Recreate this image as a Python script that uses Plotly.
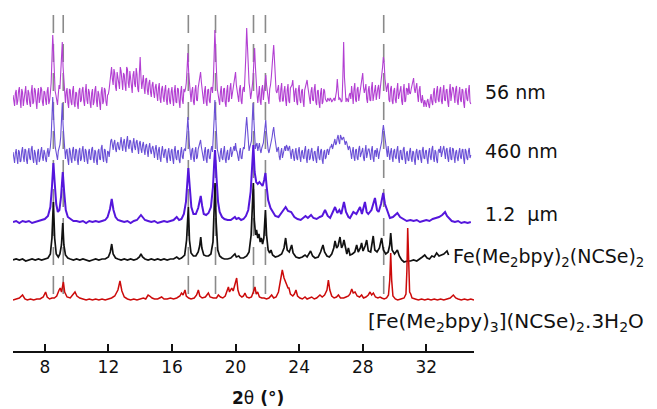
import plotly.graph_objects as go

# ---------------- data (intensities in arbitrary units) ----------------
# noisy patterns: values at 6.0, 6.1, ... 34.8 deg (MAIN) and at 6.05, 6.15, ... 34.75 deg (MID)
NOISY_START = 6.0
NOISY_STEP = 0.1

INT_56NM_MAIN = [
    2, -9, 7, -4, 10, -11, 5, -3, 11, -8,
    4, -10, 12, -5, 7, -12, 9, -2, 8, -9,
    5, -8, 10, -4, 14, 62, 18, 2, -8, 12,
    20, 55, 16, -6, 9, -11, 7, -8, 11, -10,
    4, -12, 9, -3, 10, -9, 13, -7, 5, -11,
    8, -5, 11, -10, 3, -13, 10, -4, 7, -9,
    3, 14, 30, 12, 24, 6, 21, 8, 26, 7,
    22, 6, 28, 9, 20, 4, 26, 10, 23, 5,
    40, 8, 22, 3, 19, 2, 17, 0, 15, -1,
    13, -4, 14, -6, 11, -5, 12, -8, 9, -7,
    10, -9, 12, -6, 8, -11, 11, -7, 5, 14,
    44, 12, -5, 10, -8, 12, -4, 14, 25, 6,
    -7, 11, -9, 8, -6, 10, 16, 67, 22, 3,
    -8, 11, -5, 9, -10, 12, -4, 14, 3, 15,
    25, 6, -5, 12, -7, 10, 18, 69, 26, 8,
    4, 18, 49, 12, -6, 11, -8, 12, 5, 22,
    6, -7, 12, 28, 52, 18, 4, 12, -5, 14,
    -4, 11, -9, 13, -6, 10, 17, -5, 9, -8,
    12, -6, 8, -10, 11, 17, 3, -7, 10, -4,
    13, -8, 7, -11, 9, -5, 6, -3, -1, -4,
    -2, -4, -1, 2, 18, -3, -2, -4, 55, -3,
    -1, -5, 4, 11, -7, 14, -5, 10, 2, 12,
    24, 4, 13, -6, 11, -4, 15, 3, 12, 6,
    12, 8, 20, 40, 18, 5, 14, -5, 11, -7,
    9, -6, 14, 2, 11, -8, 13, -4, 8, 14,
    3, 12, 19, 4, 14, -5, 11, -6, -8, -3,
    -10, -2, -11, 3, -8, 9, -6, 11, -5, 10,
    -7, 12, -4, 8, -10, 13, 2, 9, -6, 11,
    -8, 10, -5, 7, -11, 9, -4, 12, -7,
]
INT_56NM_MID = [
    -5, 4, -8, 6, -3, 8, -9, 6, -4, 7,
    -6, 5, -7, 9, -4, 3, -6, 10, -5, 6,
    -3, 6, -7, 4, 38, 45, 6, -5, 3, 8,
    40, 30, 4, 5, -6, 8, -5, 6, -7, 5,
    -7, 6, -5, 7, -4, 5, -3, 8, -6, 4,
    -8, 7, -4, 6, -6, 5, -7, 9, -5, 2,
    8, 24, 18, 28, 10, 25, 14, 30, 12, 24,
    12, 30, 14, 26, 11, 22, 13, 29, 8, 24,
    20, 15, 9, 18, 7, 14, 5, 12, 4, 10,
    3, 9, -2, 8, 0, 7, -3, 6, -4, 5,
    -2, 6, -5, 9, -4, 5, -3, 8, 8, 28,
    25, 4, 6, -5, 7, -3, 9, 18, 15, -4,
    6, -5, 7, -4, 9, 4, 40, 45, 8, -3,
    5, -4, 8, -6, 6, -5, 9, -2, 10, 20,
    12, -3, 8, -4, 7, 5, 42, 48, 14, -2,
    10, 35, 30, 3, 7, -4, 8, -3, 14, 12,
    -3, 8, 20, 42, 35, 6, 9, -2, 8, -4,
    6, -3, 7, -4, 9, 12, 5, 6, -5, 7,
    -3, 6, -4, 7, 14, 10, -4, 6, -3, 8,
    -5, 6, -6, 4, -7, 8, -2, -5, -2, -1,
    -5, -2, -4, 6, 4, -1, -5, 20, 20, -5,
    -3, 2, -2, 3, 8, -3, 8, -4, 7, 16,
    10, 8, -2, 7, -3, 9, -4, 10, -3, 9,
    -2, 14, 30, 34, 8, 11, -3, 8, -4, 6,
    -3, 7, -2, 8, -4, 6, -5, 9, 2, 4,
    8, 15, 8, 10, 2, 7, -3, 2, -10, -9,
    -4, -8, -2, -5, 4, -4, 6, -3, 7, -4,
    6, -3, 7, -5, 5, -4, 10, -3, 8, -4,
    4, -3, 8, -6, 5, -2, 6, -5,
]

INT_460NM_MAIN = [
    3, -8, 6, -9, 3, -6, 8, -7, 5, -9,
    7, -5, 9, -8, 2, -10, 6, -4, 8, -6,
    2, -7, 7, 3, 18, 58, 20, 4, -5, 8,
    18, 52, 14, -4, 6, -10, 4, -8, 8, -6,
    5, -10, 7, -4, 9, -7, 4, -9, 6, -5,
    8, -8, 3, -10, 6, -5, 10, -7, 5, -8,
    3, 8, 16, 5, 15, 3, 13, 5, 18, 4,
    16, 3, 19, 6, 14, 2, 17, 5, 15, 1,
    14, 2, 13, 0, 11, -2, 12, 1, 9, -3,
    10, -5, 8, -7, 9, -3, 6, -8, 7, -6,
    6, -9, 9, -5, 5, -8, 8, -4, 6, 12,
    38, 10, -5, 7, -7, 8, -2, 9, 15, 3,
    -6, 8, -8, 6, -4, 9, 15, 55, 18, 2,
    -7, 7, -5, 9, -8, 5, -4, 8, 1, 9,
    12, 3, -6, 7, -4, 8, 14, 38, 15, 8,
    14, 52, 22, 10, 4, 12, 2, 9, 20, 35,
    12, 2, 8, 18, 28, 12, 3, 8, -5, 7,
    2, 9, 10, 4, 9, -4, 6, -6, 7, -5,
    8, -7, 5, -4, 9, -8, 6, -3, 7, -6,
    4, -8, 9, -5, 6, -9, 5, -2, 6, 3,
    8, 6, 13, 10, 17, 14, 20, 15, 18, 10,
    12, 5, 7, -4, 8, -6, 6, -5, 9, 2,
    7, -6, 10, 1, 6, -5, 9, -7, 5, 7,
    -4, 6, 14, 30, 16, 4, 9, -5, 7, -7,
    6, -4, 9, -8, 5, -5, 8, -9, 4, -6,
    7, -7, 3, -10, 6, -5, 5, -8, 8, -4,
    5, -9, 7, -5, 9, -7, 3, -8, 6, 9,
    4, 9, -4, 7, -7, 8, -5, 6, -8, 5,
    -6, 7, -4, 6, -9, 4, -5, 7, 0,
]
INT_460NM_MID = [
    -4, 2, -3, 5, -7, 4, -2, 6, -5, 3,
    -3, 6, -4, 5, -6, 3, -7, 4, -2, 5,
    -4, 3, -2, 8, 40, 40, 9, -3, 4, 10,
    35, 30, 3, 4, -5, 7, -4, 5, -3, 6,
    -5, 4, -6, 5, -2, 6, -5, 3, -4, 6,
    -3, 5, -6, 4, -4, 7, -3, 6, -5, 4,
    -2, 14, 9, 12, 6, 11, 7, 12, 10, 13,
    8, 14, 9, 15, 6, 12, 8, 13, 7, 12,
    6, 10, 5, 9, 4, 8, 4, 7, 3, 6,
    2, 5, -3, 4, 1, 5, -3, 3, -2, 4,
    -4, 5, -3, 4, -5, 3, -2, 5, 4, 25,
    20, 2, 5, -3, 4, -4, 6, 12, 8, -2,
    4, -4, 5, -3, 5, 3, 35, 35, 6, -4,
    3, -3, 4, -4, 2, -5, 5, -2, 6, 4,
    5, -2, 3, -3, 4, 6, 28, 25, 4, 10,
    35, 36, 6, 12, 8, 5, 7, 12, 28, 22,
    5, 6, 12, 24, 20, 5, 6, -2, 3, -3,
    6, 4, 8, 7, 2, 4, -2, 3, -3, 4,
    -2, 3, -2, 5, -3, 4, -5, 4, -3, 3,
    -4, 5, -3, 4, -5, 3, -4, 5, 0, 8,
    11, 9, 16, 12, 20, 11, 18, 17, 14, 14,
    8, 9, 2, 4, -2, 5, -3, 6, -2, 6,
    -3, 4, -3, 6, -4, 5, -3, 4, -2, 3,
    2, 8, 24, 24, 8, -2, 4, 3, -2, 4,
    -2, 5, -3, 4, -4, 6, -3, 2, -5, 4,
    -3, 4, -5, 3, -2, 4, -4, 5, -3, 4,
    -4, 3, -2, 6, -3, 5, -5, 4, 2, -2,
    6, -3, 5, -3, 4, -4, 7, -2, 3, -3,
    3, -2, 5, -4, 6, -3, 4, -3,
]

# smoother patterns: (2theta, intensity) vertices
PAT_1P2UM = [
    (6.0, 0), (6.2, 1), (6.4, -1), (6.6, 1), (6.8, 0), (7.0, 1), (7.2, -1), (7.4, 0), (7.6, 1), (7.8, 2),
    (8.0, 3), (8.2, 6), (8.35, 15), (8.45, 35), (8.54, 59), (8.62, 40), (8.72, 18), (8.82, 10), (8.92, 12),
    (9.02, 25), (9.13, 50), (9.22, 30), (9.32, 12), (9.45, 5), (9.6, 3), (9.8, 1), (10.0, 1), (10.2, 0),
    (10.4, 1), (10.6, -1), (10.8, 1), (11.0, 0), (11.2, 1), (11.4, 0), (11.6, 1), (11.8, 2), (11.95, 5),
    (12.1, 13), (12.21, 23), (12.32, 12), (12.45, 5), (12.6, 2), (12.8, 1), (13.0, 0), (13.2, 1), (13.4, -1),
    (13.6, 1), (13.8, 2), (13.95, 5), (14.05, 7), (14.15, 5), (14.3, 2), (14.5, 1), (14.7, 0), (14.9, 1),
    (15.1, -1), (15.3, 0), (15.5, 1), (15.7, 0), (15.9, 1), (16.1, 2), (16.3, 5), (16.45, 2), (16.6, 3),
    (16.75, 8), (16.88, 20), (16.97, 40), (17.03, 54), (17.12, 35), (17.22, 15), (17.35, 8), (17.5, 8),
    (17.65, 14), (17.75, 22), (17.81, 26), (17.9, 16), (18.0, 8), (18.15, 7), (18.3, 9), (18.45, 15),
    (18.58, 35), (18.66, 60), (18.71, 72), (18.8, 45), (18.9, 20), (19.0, 10), (19.15, 5), (19.3, 3),
    (19.5, 2), (19.7, 2), (19.85, 4), (19.96, 5), (20.05, 3), (20.2, 4), (20.35, 2), (20.5, 3), (20.65, 6),
    (20.8, 12), (20.95, 30), (21.05, 55), (21.12, 77), (21.2, 50), (21.3, 40), (21.4, 38), (21.5, 40),
    (21.6, 38), (21.7, 36), (21.8, 42), (21.88, 49), (21.96, 35), (22.05, 22), (22.2, 14), (22.35, 10),
    (22.5, 6), (22.7, 5), (22.9, 9), (23.05, 13), (23.15, 15), (23.3, 11), (23.5, 10), (23.7, 5), (23.9, 3),
    (24.1, 2), (24.25, 4), (24.4, 6), (24.55, 4), (24.75, 7), (24.9, 4), (25.1, 3), (25.3, 5), (25.45, 6),
    (25.63, 12), (25.8, 6), (25.95, 4), (26.1, 9), (26.26, 15), (26.4, 9), (26.53, 12), (26.65, 8),
    (26.82, 20), (26.95, 10), (27.1, 5), (27.2, 4), (27.41, 10), (27.6, 8), (27.83, 15), (27.95, 8),
    (28.14, 20), (28.25, 10), (28.35, 8), (28.55, 12), (28.77, 24), (28.9, 12), (29.0, 10), (29.15, 18),
    (29.29, 29), (29.4, 18), (29.55, 10), (29.71, 4), (29.9, 5), (30.05, 7), (30.18, 9), (30.35, 5),
    (30.55, 3), (30.77, 1), (31.0, 2), (31.2, 1), (31.4, 2), (31.6, 0), (31.8, 1), (32.0, 2), (32.2, 1),
    (32.4, 3), (32.6, 4), (32.8, 5), (33.0, 7), (33.18, 10), (33.3, 6), (33.45, 3), (33.6, 1), (33.8, 0),
    (34.0, 1), (34.2, -1), (34.4, 0), (34.6, -1), (34.8, 0),
]

PAT_BULK = [
    (6.0, 0), (6.2, 1), (6.4, 0), (6.6, 1), (6.8, -1), (7.0, 0), (7.2, 1), (7.4, 0), (7.6, 1), (7.8, 0),
    (8.0, 1), (8.2, 2), (8.35, 6), (8.45, 22), (8.54, 58), (8.62, 22), (8.72, 6), (8.85, 3), (8.95, 6),
    (9.05, 15), (9.13, 37), (9.2, 15), (9.3, 5), (9.45, 2), (9.6, 1), (9.8, 0), (10.0, 1), (10.2, 0),
    (10.4, 1), (10.6, 0), (10.8, -1), (11.0, 0), (11.2, 1), (11.4, 0), (11.6, 1), (11.8, 1), (12.0, 3),
    (12.12, 8), (12.21, 16), (12.3, 6), (12.45, 2), (12.6, 1), (12.8, 0), (13.0, 1), (13.2, 0), (13.4, 1),
    (13.6, 0), (13.8, 1), (13.95, 3), (14.05, 6), (14.15, 3), (14.3, 1), (14.5, 0), (14.7, 1), (14.9, 0),
    (15.1, 1), (15.3, 0), (15.5, 1), (15.7, 0), (15.9, 1), (16.1, 1), (16.3, 3), (16.45, 1), (16.6, 2),
    (16.8, 5), (16.92, 20), (17.03, 53), (17.1, 20), (17.2, 7), (17.35, 4), (17.5, 4), (17.65, 8),
    (17.74, 14), (17.81, 23), (17.88, 12), (18.0, 5), (18.15, 4), (18.3, 4), (18.45, 6), (18.58, 18),
    (18.66, 45), (18.71, 77), (18.78, 38), (18.88, 10), (19.0, 4), (19.15, 2), (19.3, 1), (19.5, 1),
    (19.7, 2), (19.85, 4), (19.96, 6), (20.05, 3), (20.2, 4), (20.3, 2), (20.5, 2), (20.7, 4), (20.85, 8),
    (20.98, 25), (21.06, 50), (21.12, 77), (21.18, 40), (21.26, 25), (21.32, 30), (21.4, 22), (21.47, 26),
    (21.55, 18), (21.62, 22), (21.7, 16), (21.78, 22), (21.88, 50), (21.95, 25), (22.05, 10), (22.15, 7),
    (22.23, 10), (22.33, 5), (22.5, 3), (22.7, 4), (22.9, 6), (23.05, 12), (23.15, 22), (23.25, 10),
    (23.38, 8), (23.53, 15), (23.62, 7), (23.8, 3), (24.0, 2), (24.2, 3), (24.37, 5), (24.5, 3), (24.72, 9),
    (24.85, 4), (25.0, 2), (25.2, 3), (25.35, 8), (25.5, 15), (25.6, 8), (25.75, 4), (25.9, 3), (26.05, 6),
    (26.18, 12), (26.26, 19), (26.36, 12), (26.45, 14), (26.57, 23), (26.67, 12), (26.75, 15), (26.82, 20),
    (26.92, 10), (27.0, 6), (27.1, 12), (27.2, 5), (27.35, 6), (27.5, 8), (27.62, 15), (27.72, 8),
    (27.85, 12), (27.93, 17), (28.02, 9), (28.15, 14), (28.25, 20), (28.35, 9), (28.5, 8), (28.66, 24),
    (28.76, 10), (28.9, 8), (29.05, 12), (29.19, 22), (29.3, 10), (29.45, 6), (29.6, 8), (29.7, 15),
    (29.76, 27), (29.85, 10), (30.0, 6), (30.18, 10), (30.3, 4), (30.45, 0), (30.6, -2), (30.8, -1),
    (31.0, -1), (31.2, 0), (31.4, -1), (31.6, 1), (31.75, 3), (31.9, 5), (32.05, 2), (32.2, 1), (32.35, 4),
    (32.5, 3), (32.65, 7), (32.8, 4), (32.95, 5), (33.1, 6), (33.3, 9), (33.4, 5),
]

PAT_HYDRATE = [
    (6.0, 0), (6.2, 1), (6.4, 2), (6.6, 5), (6.75, 1), (6.9, 0), (7.1, 1), (7.3, 0), (7.5, 1), (7.7, 1),
    (7.9, 3), (8.05, 8), (8.15, 3), (8.3, 1), (8.45, 2), (8.6, 2), (8.75, 4), (8.9, 10), (8.97, 12),
    (9.05, 8), (9.12, 14), (9.17, 18), (9.25, 8), (9.4, 3), (9.6, 2), (9.78, 5), (9.9, 8), (10.02, 4),
    (10.2, 2), (10.4, 1), (10.6, 0), (10.8, 1), (11.0, 0), (11.2, 1), (11.4, 0), (11.6, 1), (11.8, 0),
    (12.0, 1), (12.2, 2), (12.4, 4), (12.6, 10), (12.73, 19), (12.85, 9), (13.0, 3), (13.2, 1), (13.4, 0),
    (13.6, 1), (13.8, 0), (14.0, 1), (14.2, 2), (14.35, 1), (14.5, 5), (14.6, 4), (14.75, 2), (14.9, 1),
    (15.1, 1), (15.35, 3), (15.5, 1), (15.7, 1), (15.9, 2), (16.1, 1), (16.3, 2), (16.5, 4), (16.6, 7),
    (16.7, 5), (16.82, 10), (16.9, 4), (17.05, 2), (17.2, 1), (17.4, 2), (17.55, 5), (17.66, 10),
    (17.75, 4), (17.9, 2), (18.1, 3), (18.29, 7), (18.4, 3), (18.6, 2), (18.8, 2), (18.92, 5), (19.05, 3),
    (19.2, 2), (19.35, 4), (19.48, 10), (19.55, 13), (19.62, 8), (19.7, 10), (19.76, 12), (19.85, 9),
    (19.95, 14), (20.07, 22), (20.15, 10), (20.25, 5), (20.4, 3), (20.5, 4), (20.59, 7), (20.7, 3),
    (20.85, 2), (21.0, 3), (21.12, 8), (21.22, 13), (21.3, 6), (21.39, 8), (21.5, 3), (21.65, 2),
    (21.8, 2), (21.95, 1), (22.1, 2), (22.27, 5), (22.4, 2), (22.55, 3), (22.7, 8), (22.82, 20),
    (22.94, 30), (23.05, 22), (23.15, 18), (23.22, 17), (23.3, 12), (23.36, 12), (23.45, 6), (23.6, 4),
    (23.7, 6), (23.8, 10), (23.9, 4), (24.05, 2), (24.2, 1), (24.37, 3), (24.5, 1), (24.65, 2), (24.79, 3),
    (24.95, 1), (25.1, 2), (25.31, 5), (25.45, 3), (25.6, 5), (25.75, 10), (25.84, 20), (25.93, 10),
    (26.05, 4), (26.2, 2), (26.35, 3), (26.47, 5), (26.6, 2), (26.8, 2), (26.95, 3), (27.1, 4), (27.2, 6),
    (27.31, 11), (27.4, 7), (27.52, 8), (27.65, 4), (27.8, 3), (27.93, 5), (28.05, 2), (28.2, 3),
    (28.35, 5), (28.46, 8), (28.56, 5), (28.67, 7), (28.8, 3), (28.95, 2), (29.09, 3), (29.2, 2),
    (29.35, 1), (29.5, 2), (29.62, 5), (29.7, 20), (29.76, 47), (29.82, 20), (29.9, 4), (30.05, 1),
    (30.2, 0), (30.4, 1), (30.6, 2), (30.72, 6), (30.78, 30), (30.83, 72), (30.88, 30), (30.95, 8),
    (31.02, 6), (31.1, 2), (31.3, 1), (31.5, 0), (31.7, 1), (31.9, 0), (32.1, 1), (32.3, 0), (32.5, 1),
    (32.7, 0), (32.9, 1), (33.1, 0), (33.3, 1), (33.5, 2), (33.7, 5), (33.85, 2), (34.0, 1), (34.2, 0),
    (34.4, 1), (34.6, 0), (34.8, 1), (35.0, 0),
]

# reference reflections marked with dashed lines
REF_2THETA = [8.54, 9.16, 17.03, 18.74, 21.13, 21.88, 29.32]

TICKS = [8, 12, 16, 20, 24, 28, 32]

# ---------------- layout constants ----------------
# (the html page body adds an 8 px margin, so the figure is 8 px smaller and shifted)
OFFSETS = {"56": 254, "460": 196, "1p2": 129, "bulk": 91, "hyd": 51}
COLORS = {"56": "#b23fd2", "460": "#6a4fd6", "1p2": "#5516dc", "bulk": "#111111", "hyd": "#cc0a0a"}


def interleave(main, mid):
    xs, ys = [], []
    for i, v in enumerate(main):
        xs.append(round(NOISY_START + NOISY_STEP * i, 3))
        ys.append(v)
        if i < len(mid):
            xs.append(round(NOISY_START + NOISY_STEP * (i + 0.5), 3))
            ys.append(mid[i])
    return xs, ys


fig = go.Figure()

# dashed guide lines (behind the patterns)
for pos in REF_2THETA:
    fig.add_shape(type="line", x0=pos, x1=pos, y0=336, y1=51, xref="x", yref="y",
                  line=dict(color="#8a8a8a", width=1.6, dash="18px,11px"), layer="below")

for key, main, mid in (("56", INT_56NM_MAIN, INT_56NM_MID), ("460", INT_460NM_MAIN, INT_460NM_MID)):
    xs, ys = interleave(main, mid)
    fig.add_trace(go.Scatter(x=xs, y=[v + OFFSETS[key] for v in ys], mode="lines",
                             line=dict(color=COLORS[key], width=1.1), hoverinfo="skip"))

for key, pat, w in (("1p2", PAT_1P2UM, 2.0), ("bulk", PAT_BULK, 1.7), ("hyd", PAT_HYDRATE, 1.5)):
    fig.add_trace(go.Scatter(x=[p[0] for p in pat], y=[p[1] + OFFSETS[key] for p in pat], mode="lines",
                             line=dict(color=COLORS[key], width=w), hoverinfo="skip"))

PLOT_H = 343
RIGHT_X = 1.0195  # just right of the plot area (paper units)
side_labels = [
    (RIGHT_X, 259, "56 nm", 19),
    (RIGHT_X, 200, "460 nm", 19),
    (RIGHT_X, 137, "1.2\u00a0\u00a0\u03bcm", 19),
    ((451 - 13) / 461, 93, "Fe(Me<sub>2</sub>bpy)<sub>2</sub>(NCSe)<sub>2</sub>", 19),
    ((366 - 13) / 461, 29, "[Fe(Me<sub>2</sub>bpy)<sub>3</sub>](NCSe)<sub>2</sub>.3H<sub>2</sub>O", 20),
]
for x, y, t, s in side_labels:
    fig.add_annotation(x=x, y=y / PLOT_H, xref="paper", yref="paper", text=t, showarrow=False,
                       xanchor="left", yanchor="middle",
                       font=dict(family="DejaVu Sans", size=s, color="#111111"))

fig.add_annotation(x=21.41, y=-47 / PLOT_H, xref="x", yref="paper", text="<b>2</b>\u03b8<b> (\u00b0)</b>",
                   showarrow=False, xanchor="center", yanchor="middle",
                   font=dict(family="DejaVu Sans", size=17, color="#111111"))

fig.update_layout(
    width=649, height=401,
    margin=dict(l=5, r=183, t=0, b=58),
    paper_bgcolor="white", plot_bgcolor="white",
    showlegend=False,
    xaxis=dict(range=[6, 35], tickvals=TICKS, ticktext=[str(t) for t in TICKS],
               showline=True, linecolor="#111111", linewidth=1.6,
               ticks="inside", ticklen=7, tickwidth=1.6, tickcolor="#111111",
               showgrid=False, zeroline=False,
               tickfont=dict(family="DejaVu Sans", size=17, color="#111111")),
    yaxis=dict(range=[0, PLOT_H], visible=False, showgrid=False, zeroline=False),
)

fig.write_html("out.html")
